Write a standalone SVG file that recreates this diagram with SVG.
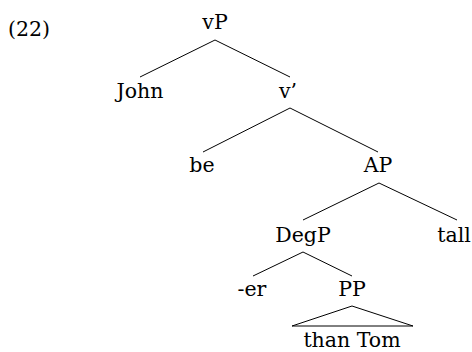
<svg xmlns="http://www.w3.org/2000/svg" width="472" height="352" viewBox="0 0 472 352">
  <style>
    text { font-family: "DejaVu Serif", "Liberation Serif", serif; font-size: 20.5px; fill: #000; text-anchor: middle; }
    .edge { stroke: #000; stroke-width: 1; fill: none; }
  </style>
  <rect width="472" height="352" fill="#fff"/>
  <text x="8" y="36" style="text-anchor:start">(22)</text>

  <g id="connectors">
    <line class="edge" x1="215" y1="40" x2="140" y2="77"/>
    <line class="edge" x1="215" y1="40" x2="290" y2="77"/>
    <line class="edge" x1="290" y1="108" x2="203" y2="152"/>
    <line class="edge" x1="290" y1="108" x2="378" y2="152"/>
    <line class="edge" x1="379" y1="183" x2="303" y2="220"/>
    <line class="edge" x1="379" y1="183" x2="457" y2="220"/>
    <line class="edge" x1="303" y1="252" x2="253" y2="276"/>
    <line class="edge" x1="303" y1="252" x2="352" y2="276"/>
    <polygon class="edge" points="352,306 292,326 413,326"/>
  </g>

  <g id="vP"><text x="215" y="29">vP</text></g>
  <g id="John"><text x="140" y="98">John</text></g>
  <g id="vbar"><text x="288" y="98">v’</text></g>
  <g id="be"><text x="202" y="172">be</text></g>
  <g id="AP"><text x="378" y="172">AP</text></g>
  <g id="DegP"><text x="303" y="242">DegP</text></g>
  <g id="tall"><text x="454" y="242">tall</text></g>
  <g id="er"><text x="252" y="296">-er</text></g>
  <g id="PP"><text x="352" y="296">PP</text></g>
  <g id="thanTom"><text x="352" y="347">than Tom</text></g>
</svg>
